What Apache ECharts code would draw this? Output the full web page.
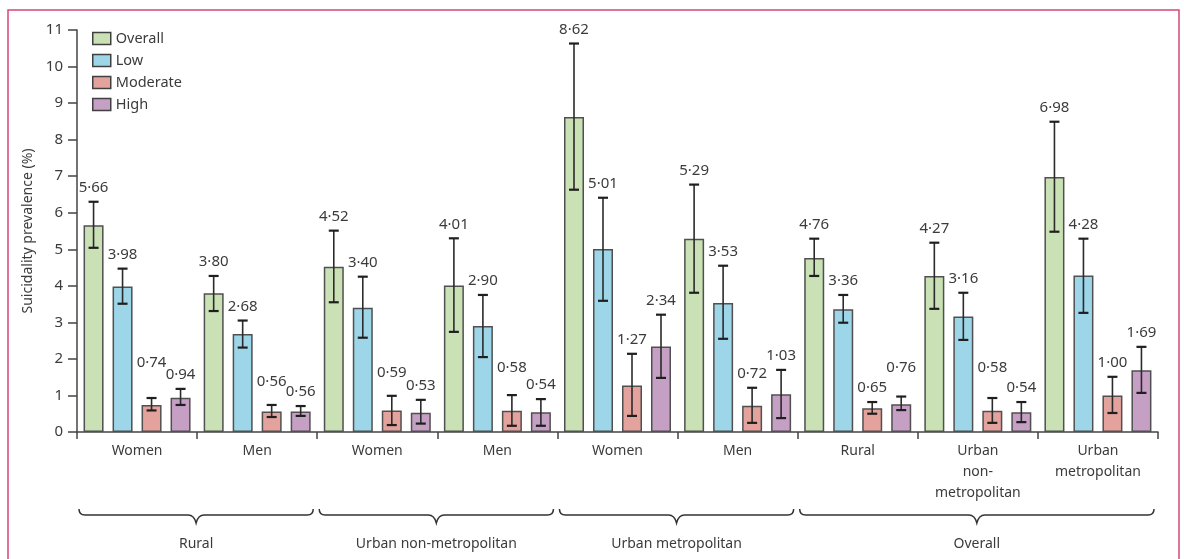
<!DOCTYPE html>
<html>
<head>
<meta charset="utf-8">
<script src="https://cdn.jsdelivr.net/npm/echarts@6/dist/echarts.min.js"></script>
<style>
  html, body { margin: 0; background: #fff; }
  #chart { width: 1184px; height: 559px; }
</style>
</head>
<body>
<div id="chart"></div>
<script>
// categories on the x axis (grouped by the braces below)
var categories = ['Women', 'Men', 'Women', 'Men', 'Women', 'Men', 'Rural', 'Urban\nnon-\nmetropolitan', 'Urban\nmetropolitan'];
var groups = [
  ['Rural', 0, 1],
  ['Urban non-metropolitan', 2, 3],
  ['Urban metropolitan', 4, 5],
  ['Overall', 6, 8]
];
var seriesNames = ['Overall', 'Low', 'Moderate', 'High'];

// prevalence (%)
var overall = [5.66, 3.80, 4.52, 4.01, 8.62, 5.29, 4.76, 4.27, 6.98];
var low = [3.98, 2.68, 3.40, 2.90, 5.01, 3.53, 3.36, 3.16, 4.28];
var moderate = [0.74, 0.56, 0.59, 0.58, 1.27, 0.72, 0.65, 0.58, 1.00];
var high = [0.94, 0.56, 0.53, 0.54, 2.34, 1.03, 0.76, 0.54, 1.69];

// 95% CI [lower, upper]
var overallCI = [[5.04, 6.30], [3.31, 4.27], [3.55, 5.51], [2.74, 5.30], [6.63, 10.63], [3.81, 6.77], [4.27, 5.29], [3.37, 5.18], [5.48, 8.49]];
var lowCI = [[3.51, 4.47], [2.31, 3.05], [2.58, 4.25], [2.05, 3.75], [3.59, 6.41], [2.55, 4.55], [2.99, 3.75], [2.52, 3.81], [3.26, 5.29]];
var moderateCI = [[0.59, 0.93], [0.41, 0.74], [0.19, 0.99], [0.17, 1.01], [0.44, 2.14], [0.25, 1.21], [0.50, 0.82], [0.25, 0.93], [0.52, 1.51]];
var highCI = [[0.74, 1.18], [0.44, 0.71], [0.23, 0.88], [0.17, 0.90], [1.48, 3.21], [0.38, 1.70], [0.60, 0.97], [0.27, 0.82], [1.07, 2.33]];

var yMin = 0, yMax = 11, yStep = 1;

// styling
var colors = ['#c9e1b4', '#9dd6e8', '#e4a29d', '#c69fc4'];
var barWidth = 20, barGap = 0.45;
var FONT = '"Noto Sans", sans-serif';
var TEXT = '#3b3b3b';
// how far above the top cap the value label sits (px); some were moved up by hand in the original
var labelLift = { '0-2': 35, '1-2': 23, '2-2': 23, '3-2': 27, '6-3': 29, '7-2': 30 };

var values = [overall, low, moderate, high];
var cis = [overallCI, lowCI, moderateCI, highCI];

var errData = [];
for (var s = 0; s < 4; s++) {
  for (var c = 0; c < categories.length; c++) {
    errData.push([c, s, cis[s][c][0], cis[s][c][1], values[s][c]]);
  }
}

function fmt(v) {
  return v.toFixed(2).replace('.', '\u00b7');
}

function renderErr(params, api) {
  var c = api.value(0), s = api.value(1);
  var step = barWidth * (1 + barGap);
  var top = api.coord([c, api.value(3)]);
  var bot = api.coord([c, api.value(2)]);
  var x = top[0] + (s - 1.5) * step;
  var lift = labelLift[c + '-' + s] || 14;
  var line = { stroke: '#2b2b2b', lineWidth: 1.6 };
  var cap = { stroke: '#1f1f1f', lineWidth: 2.2 };
  return {
    type: 'group',
    children: [
      { type: 'line', shape: { x1: x, y1: top[1], x2: x, y2: bot[1] }, style: line },
      { type: 'line', shape: { x1: x - 5, y1: top[1], x2: x + 5, y2: top[1] }, style: cap },
      { type: 'line', shape: { x1: x - 5, y1: bot[1], x2: x + 5, y2: bot[1] }, style: cap },
      {
        type: 'text', x: x, y: top[1] - lift,
        style: { text: fmt(api.value(4)), align: 'center', verticalAlign: 'middle', font: '15px ' + FONT, fill: TEXT }
      }
    ]
  };
}

function renderBrace(params, api) {
  var band = api.size([1, 0])[0];
  var x1 = api.coord([api.value(0), 0])[0] - band / 2 + 2;
  var x2 = api.coord([api.value(1), 0])[0] + band / 2 - 4;
  var y = api.coord([0, 0])[1] + 83;
  var xm = (x1 + x2) / 2;
  var path = 'M' + x1 + ',' + (y - 6) +
    ' Q' + x1 + ',' + y + ' ' + (x1 + 6) + ',' + y +
    ' L' + (xm - 8) + ',' + y +
    ' Q' + (xm - 2) + ',' + y + ' ' + xm + ',' + (y + 8) +
    ' Q' + (xm + 2) + ',' + y + ' ' + (xm + 8) + ',' + y +
    ' L' + (x2 - 6) + ',' + y +
    ' Q' + x2 + ',' + y + ' ' + x2 + ',' + (y - 6);
  return {
    type: 'group',
    children: [
      { type: 'path', shape: { pathData: path }, style: { stroke: '#333', lineWidth: 1.5, fill: null } },
      {
        type: 'text', x: xm, y: y + 29,
        style: { text: groups[params.dataIndex][0], align: 'center', verticalAlign: 'middle', font: '14px ' + FONT, fill: TEXT }
      }
    ]
  };
}

var chart = echarts.init(document.getElementById('chart'));

var series = seriesNames.map(function (name, i) {
  return {
    name: name,
    type: 'bar',
    data: values[i],
    barWidth: barWidth,
    barGap: (barGap * 100) + '%',
    itemStyle: { color: colors[i], borderColor: '#505050', borderWidth: 1.5 }
  };
});
series.push({
  type: 'custom',
  renderItem: renderErr,
  data: errData,
  encode: { x: 0, y: 3 },
  z: 5,
  silent: true
});
series.push({
  type: 'custom',
  renderItem: renderBrace,
  data: groups.map(function (g) { return [g[1], g[2]]; }),
  encode: { x: 0, y: -1 },
  clip: false,
  silent: true
});

chart.setOption({
  animation: false,
  graphic: [{
    type: 'rect',
    shape: { x: 8, y: 10, width: 1171, height: 600 },
    style: { fill: null, stroke: '#d8467a', lineWidth: 1.5 },
    silent: true
  }],
  legend: {
    data: seriesNames,
    orient: 'vertical',
    left: 87,
    top: 26,
    icon: 'rect',
    itemWidth: 18,
    itemHeight: 12,
    itemGap: 7,
    itemStyle: { borderColor: '#404040', borderWidth: 1.5 },
    textStyle: { fontFamily: FONT, fontSize: 14.5, lineHeight: 14, color: TEXT, padding: [0, 0, 0, 0] }
  },
  grid: { left: 77, right: 26, top: 30, bottom: 127, containLabel: false },
  xAxis: {
    type: 'category',
    data: categories,
    axisLine: { lineStyle: { color: '#444', width: 1.5 } },
    axisTick: { show: true, interval: 0, length: 7, lineStyle: { color: '#444', width: 1.5 } },
    axisLabel: { interval: 0, margin: 9, fontFamily: FONT, fontSize: 14, lineHeight: 21, color: TEXT }
  },
  yAxis: {
    type: 'value',
    min: yMin,
    max: yMax,
    interval: yStep,
    name: 'Suicidality prevalence (%)',
    nameLocation: 'middle',
    nameGap: 26,
    nameTextStyle: { fontFamily: FONT, fontSize: 14, color: TEXT },
    axisLine: { show: true, lineStyle: { color: '#444', width: 1.5 } },
    axisTick: { show: true, length: 9, lineStyle: { color: '#444', width: 1.5 } },
    axisLabel: { margin: 14, fontFamily: FONT, fontSize: 15, color: TEXT },
    splitLine: { show: false }
  },
  series: series
});
</script>
</body>
</html>
